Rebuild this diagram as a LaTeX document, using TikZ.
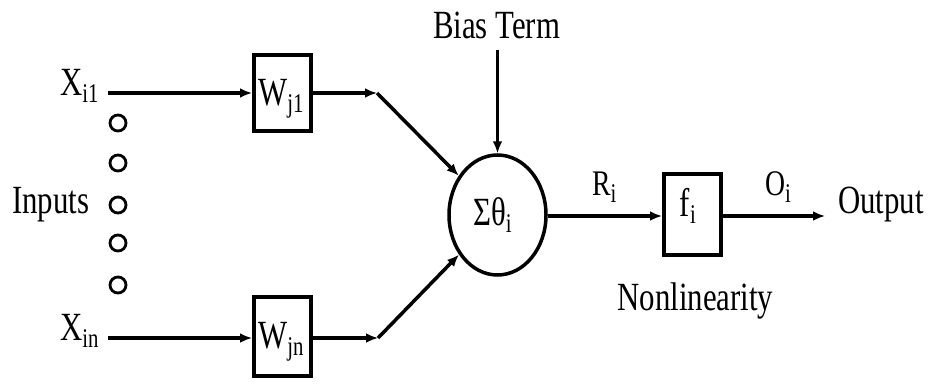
\documentclass[tikz,border=0pt]{standalone}
\usepackage{fontspec}
\usepackage{graphicx}
\setmainfont{Liberation Serif}
\usetikzlibrary{arrows.meta,shapes.geometric}
\newcommand{\sq}[1]{\scalebox{0.77}[1]{#1}}
\newcommand{\lsub}[1]{\raisebox{-7pt}{\fontsize{27}{27}\selectfont #1}}
\begin{document}
\begin{tikzpicture}[x=1pt,y=-1pt,
  txt/.style={inner sep=0pt, font=\fontsize{40}{40}\selectfont},
  stxt/.style={inner sep=0pt, font=\fontsize{36}{36}\selectfont},
  blk/.style={draw, line width=4pt, minimum width=57pt, minimum height=76pt, inner sep=0pt},
  arr/.style={line width=3.5pt, -{Latex[length=12pt,width=10pt]}},
  dotc/.style={circle, draw, line width=2.8pt, minimum size=16pt, inner sep=0pt}]
\useasboundingbox (0,0) rectangle (929,383);

% blocks
\node[blk] (w1) at (282.5,92.5) {};
\node[blk, minimum height=79pt] (wn) at (282.5,336.5) {};
\node[blk, minimum height=81pt] (f) at (692.5,214.5) {};
\node[ellipse, draw, line width=3.5pt, minimum width=97pt, minimum height=120pt, inner sep=0pt] (sum) at (497.5,215) {};

% texts
\node[txt, anchor=base west] (x1) at (60,95) {\sq{X\lsub{i1}}};
\node[txt, anchor=base west] (xn) at (60,340) {\sq{X\lsub{in}}};
\node[txt, anchor=base west] (inp) at (12,213) {\sq{Inputs}};
\node[txt, anchor=base] (bias) at (496.5,38) {\sq{Bias Term}};
\node[txt, anchor=base] (w1t) at (281,105) {\sq{W\lsub{j1}}};
\node[txt, anchor=base] (wnt) at (281,348) {\sq{W\lsub{jn}}};
\node[txt, anchor=base west] (sumt) at (473,225) {\sq{Σθ\lsub{i}}};
\node[txt, anchor=base] (ft) at (688,216) {\sq{f\lsub{i}}};
\node[stxt, anchor=base west] (ri) at (592,195) {\sq{R\lsub{i}}};
\node[stxt, anchor=base west] (oi) at (765,195) {\sq{O\lsub{i}}};
\node[txt, anchor=base west] (outt) at (838,213) {\sq{Output}};
\node[txt, anchor=base] (nl) at (695.5,310) {\sq{Nonlinearity}};

% input dots
\foreach \y [count=\k] in {123,163,205,243,285}
  \node[dotc] (d\k) at (118,\y) {};

% connectors
\coordinate (s1) at (108,93);
\coordinate (sn) at (108,338);
\coordinate (b1) at (377,93);
\coordinate (bn) at (378,338);
\coordinate (bs) at (497.5,50);
\coordinate (oe) at (825,216);

\draw[arr] (s1) -- (s1 -| w1.west);
\draw[arr] (sn) -- (sn -| wn.west);
\draw[arr] (b1 -| w1.east) -- (b1);
\draw[arr] (bn -| wn.east) -- (bn);
\draw[arr] (b1) -- (sum);
\draw[arr] (bn) -- (sum);
\draw[arr] (bs) -- (sum.north);
\draw[arr] (sum.east |- 0,216) -- (f.west |- 0,216);
\draw[arr] (f.east |- 0,216) -- (oe);
\end{tikzpicture}
\end{document}
